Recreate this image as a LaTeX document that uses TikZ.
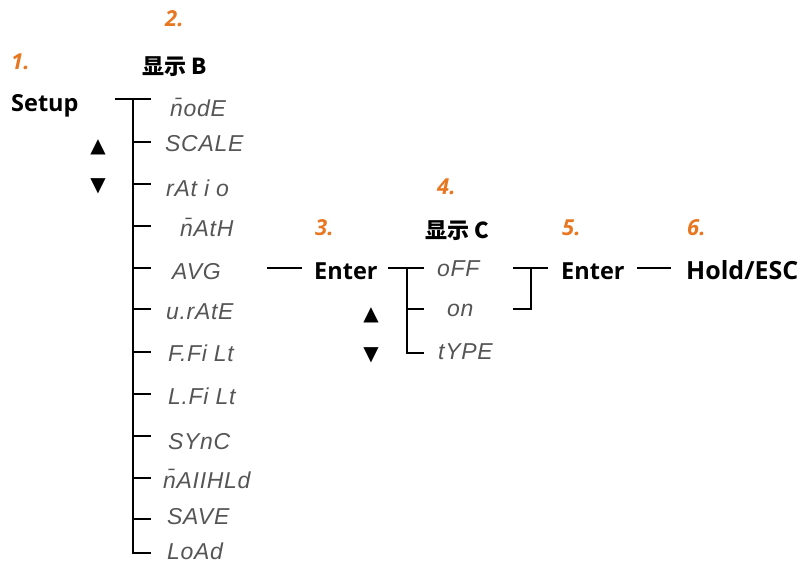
\documentclass[tikz,border=0pt]{standalone}
\usepackage{fontspec}
\setmainfont{Open Sans}
\newfontfamily\cjk{Noto Sans CJK SC}
\newfontfamily\segfont{Liberation Sans}[LetterSpace=3]
\newfontfamily\symfont{DejaVu Sans}
\definecolor{numorange}{RGB}{232,119,34}
\definecolor{seggray}{RGB}{85,85,85}
\tikzset{
  lbl/.style={inner sep=0pt, anchor=base west, font=\bfseries\fontsize{23.5}{24}\selectfont},
  cn/.style={inner sep=0pt, anchor=base west, font=\cjk\bfseries\fontsize{22}{22}\selectfont},
  num/.style={inner sep=0pt, anchor=base west, text=numorange, font=\bfseries\itshape\fontsize{22}{22}\selectfont},
  seg/.style={inner sep=0pt, anchor=base west, text=seggray, font=\segfont\itshape\fontsize{23}{23}\selectfont},
  tri/.style={inner sep=0pt, anchor=center, font=\symfont\fontsize{20}{20}\selectfont},
  wire/.style={line width=2.8pt, line cap=rect},
}
\begin{document}
\begin{tikzpicture}[x=1pt,y=-1pt]
\useasboundingbox (0,0) rectangle (809,569);
% headers
\node[num] (n1) at (11,70) {1.};
\node[lbl] (setup) at (11,112) {Setup};
\node[num] (n2) at (165,27) {2.};
\node[cn] (dispB) at (142,75) {显示 B};
\node[tri] (up1) at (98,147) {▲};
\node[tri] (dn1) at (98,186) {▼};
% menu items
\node[seg] (mode) at (170,117) {n̄odE};
\node[seg] (scale) at (165,152) {SCALE};
\node[seg] (ratio) at (166,197) {rAt i o};
\node[seg] (math) at (180,237) {n̄AtH};
\node[seg] (avg) at (172,280) {AVG};
\node[seg] (vrate) at (166,320) {u.rAtE};
\node[seg] (ffilt) at (168,362) {F.Fi Lt};
\node[seg] (lfilt) at (168,405) {L.Fi Lt};
\node[seg] (sync) at (168,449) {SYnC};
\node[seg] (maxhld) at (163,488) {n̄AIIHLd};
\node[seg] (save) at (167,524) {SAVE};
\node[seg] (load) at (167,559) {LoAd};
% bracket 1
\coordinate (b1l) at (116,99);
\coordinate (b1t) at (133,99);
\coordinate (b1b) at (133,553);
\draw[wire] (b1l) -- (150,99);
\draw[wire] (b1t) -- (b1b);
\foreach \yy in {142,184,226,268,309,352,394,436,478,519}{
  \draw[wire] (133,\yy) -- (150,\yy);
}
\draw[wire] (b1b) -- (150,553);
% step 3
\coordinate (avgR) at (268,268);
\coordinate (ent1L) at (301,268);
\draw[wire] (avgR) -- (ent1L);
\node[num] (n3) at (315,236) {3.};
\node[lbl] (enter1) at (314,280) {Enter};
\node[tri] (up2) at (371,315) {▲};
\node[tri] (dn2) at (371,355) {▼};
% bracket 2
\coordinate (b2l) at (389,268);
\coordinate (b2t) at (407,268);
\coordinate (b2b) at (407,353);
\draw[wire] (b2l) -- (423,268);
\draw[wire] (b2t) -- (b2b) -- (423,353);
\draw[wire] (407,309) -- (423,309);
\node[num] (n4) at (437,195) {4.};
\node[cn] (dispC) at (425,239) {显示 C};
\node[seg] (off) at (437,277) {oFF};
\node[seg] (on) at (447,317) {on};
\node[seg] (type) at (438,360) {tYPE};
% bracket 3
\coordinate (b3a) at (514,268);
\coordinate (b3b) at (547,268);
\coordinate (b3c) at (531,268);
\coordinate (b3d) at (531,309);
\coordinate (b3e) at (514,309);
\draw[wire] (b3a) -- (b3b);
\draw[wire] (b3c) -- (b3d) -- (b3e);
\node[num] (n5) at (562,236) {5.};
\node[lbl] (enter2) at (561,280) {Enter};
\coordinate (e2r) at (638,268);
\coordinate (hl) at (670,268);
\draw[wire] (e2r) -- (hl);
\node[num] (n6) at (687,236) {6.};
\node[lbl, font=\bfseries\fontsize{25}{25}\selectfont] (hold) at (686,280) {Hold/ESC};
\end{tikzpicture}
\end{document}
